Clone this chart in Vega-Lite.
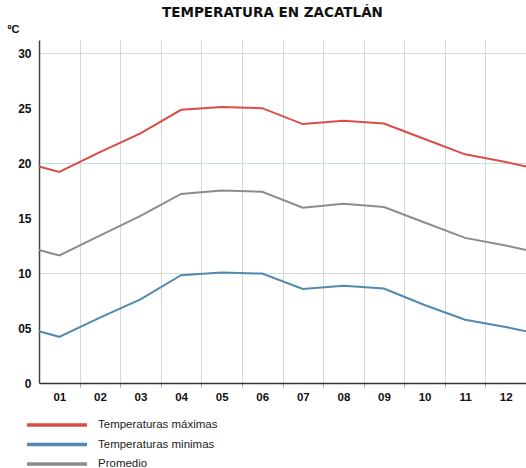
{
  "$schema": "https://vega.github.io/schema/vega-lite/v6.json",
  "width": 487,
  "height": 343,
  "autosize": "none",
  "padding": {"left": 39, "top": 40, "right": 0, "bottom": 85},
  "background": "white",
  "title": {
    "text": "TEMPERATURA EN ZACATLÁN",
    "font": "DejaVu Sans",
    "fontWeight": "bold",
    "fontSize": 13.5,
    "color": "#111",
    "anchor": "middle",
    "dx": -10,
    "dy": 3,
    "offset": 0,
    "baseline": "middle",
    "frame": "group"
  },
  "data": {
    "values": [
      {"mes": 0.5, "serie": "Temperaturas máximas", "t": 19.7},
      {"mes": 1, "serie": "Temperaturas máximas", "t": 19.2},
      {"mes": 2, "serie": "Temperaturas máximas", "t": 21.0},
      {"mes": 3, "serie": "Temperaturas máximas", "t": 22.7},
      {"mes": 4, "serie": "Temperaturas máximas", "t": 24.85},
      {"mes": 5, "serie": "Temperaturas máximas", "t": 25.1},
      {"mes": 6, "serie": "Temperaturas máximas", "t": 25.0},
      {"mes": 7, "serie": "Temperaturas máximas", "t": 23.55},
      {"mes": 8, "serie": "Temperaturas máximas", "t": 23.85},
      {"mes": 9, "serie": "Temperaturas máximas", "t": 23.6},
      {"mes": 10, "serie": "Temperaturas máximas", "t": 22.2},
      {"mes": 11, "serie": "Temperaturas máximas", "t": 20.8},
      {"mes": 12, "serie": "Temperaturas máximas", "t": 20.1},
      {"mes": 12.5, "serie": "Temperaturas máximas", "t": 19.7},
      {"mes": 0.5, "serie": "Temperaturas minimas", "t": 4.7},
      {"mes": 1, "serie": "Temperaturas minimas", "t": 4.2},
      {"mes": 2, "serie": "Temperaturas minimas", "t": 5.95},
      {"mes": 3, "serie": "Temperaturas minimas", "t": 7.6},
      {"mes": 4, "serie": "Temperaturas minimas", "t": 9.8},
      {"mes": 5, "serie": "Temperaturas minimas", "t": 10.05},
      {"mes": 6, "serie": "Temperaturas minimas", "t": 9.95},
      {"mes": 7, "serie": "Temperaturas minimas", "t": 8.55},
      {"mes": 8, "serie": "Temperaturas minimas", "t": 8.85},
      {"mes": 9, "serie": "Temperaturas minimas", "t": 8.6},
      {"mes": 10, "serie": "Temperaturas minimas", "t": 7.1},
      {"mes": 11, "serie": "Temperaturas minimas", "t": 5.75},
      {"mes": 12, "serie": "Temperaturas minimas", "t": 5.1},
      {"mes": 12.5, "serie": "Temperaturas minimas", "t": 4.7},
      {"mes": 0.5, "serie": "Promedio", "t": 12.1},
      {"mes": 1, "serie": "Promedio", "t": 11.6},
      {"mes": 2, "serie": "Promedio", "t": 13.4},
      {"mes": 3, "serie": "Promedio", "t": 15.2},
      {"mes": 4, "serie": "Promedio", "t": 17.2},
      {"mes": 5, "serie": "Promedio", "t": 17.5},
      {"mes": 6, "serie": "Promedio", "t": 17.4},
      {"mes": 7, "serie": "Promedio", "t": 15.95},
      {"mes": 8, "serie": "Promedio", "t": 16.3},
      {"mes": 9, "serie": "Promedio", "t": 16.0},
      {"mes": 10, "serie": "Promedio", "t": 14.6},
      {"mes": 11, "serie": "Promedio", "t": 13.2},
      {"mes": 12, "serie": "Promedio", "t": 12.5},
      {"mes": 12.5, "serie": "Promedio", "t": 12.1}
    ]
  },
  "mark": {"type": "line", "strokeWidth": 2, "clip": false},
  "encoding": {
    "x": {
      "field": "mes",
      "type": "quantitative",
      "scale": {"domain": [0.5, 12.5], "nice": false, "zero": false},
      "axis": {
        "title": null,
        "values": [1, 1.5, 2, 2.5, 3, 3.5, 4, 4.5, 5, 5.5, 6, 6.5, 7, 7.5, 8, 8.5, 9, 9.5, 10, 10.5, 11, 11.5, 12],
        "labelExpr": "datum.value % 1 === 0 ? (datum.value < 10 ? '0' + datum.value : '' + datum.value) : ''",
        "labelFont": "Liberation Sans",
        "labelFontWeight": "bold",
        "labelFontSize": 11.5,
        "labelColor": "#111",
        "labelPadding": 4,
        "labelOverlap": false,
        "labelBound": false,
        "labelFlush": false,
        "domainColor": "#333",
        "domainWidth": 1.5,
        "tickSize": 4,
        "tickColor": "#aaa",
        "tickOpacity": {"condition": {"test": "datum.value % 1 !== 0", "value": 1}, "value": 0},
        "grid": true,
        "gridColor": "#d6d6dc",
        "gridOpacity": {"condition": {"test": "datum.value % 1 !== 0", "value": 1}, "value": 0}
      }
    },
    "y": {
      "field": "t",
      "type": "quantitative",
      "scale": {"domain": [0, 31.2], "nice": false, "zero": true},
      "axis": {
        "title": "ºC",
        "titleAngle": 0,
        "titleAlign": "left",
        "titleBaseline": "middle",
        "titleX": -32,
        "titleY": -11,
        "titleFont": "Liberation Sans",
        "titleFontWeight": "bold",
        "titleFontSize": 11,
        "titleColor": "#111",
        "values": [0, 5, 10, 15, 20, 25, 30],
        "labelExpr": "datum.value === 0 ? '0' : (datum.value < 10 ? '0' + datum.value : '' + datum.value)",
        "labelFont": "Liberation Sans",
        "labelFontWeight": "bold",
        "labelFontSize": 12,
        "labelColor": "#111",
        "labelPadding": 8,
        "ticks": false,
        "domainColor": "#444",
        "domainWidth": 1.5,
        "grid": true,
        "gridColor": {"condition": {"test": "datum.value === 20", "value": "#c4dfec"}, "value": "#d8d8dc"},
        "gridOpacity": {"condition": {"test": "datum.value % 10 === 0 && datum.value > 0", "value": 1}, "value": 0}
      }
    },
    "color": {
      "field": "serie",
      "type": "nominal",
      "scale": {
        "domain": ["Temperaturas máximas", "Temperaturas minimas", "Promedio"],
        "range": ["#dc4c47", "#5289b0", "#8c8c8c"]
      },
      "legend": {
        "title": null,
        "orient": "none",
        "legendX": -14,
        "legendY": 377,
        "direction": "vertical",
        "symbolType": "stroke",
        "symbolSize": 3600,
        "symbolStrokeWidth": 3.5,
        "clipHeight": 16,
        "rowPadding": 3.5,
        "labelFont": "Liberation Sans",
        "labelFontSize": 11.5,
        "labelColor": "#222",
        "labelOffset": 9
      }
    }
  },
  "config": {"view": {"stroke": null}}
}
